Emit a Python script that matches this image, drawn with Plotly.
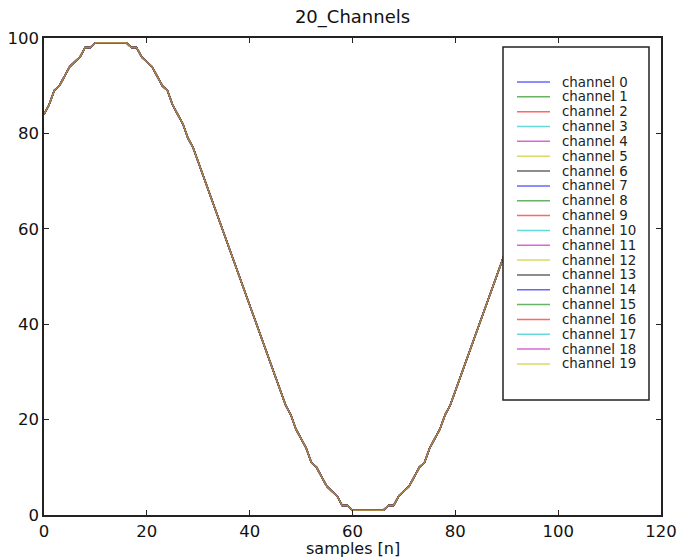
import plotly.graph_objects as go

# sample index and the (identical) value recorded on every channel
samples = list(range(100))
values = [84, 86, 89, 90, 92, 94, 95, 96, 98, 98,
          99, 99, 99, 99, 99, 99, 99, 98, 98, 96,
          95, 94, 92, 90, 89, 86, 84, 82, 79, 77,
          74, 71, 68, 65, 62, 59, 56, 53, 50, 47,
          44, 41, 38, 35, 32, 29, 26, 23, 21, 18,
          16, 14, 11, 10, 8, 6, 5, 4, 2, 2,
          1, 1, 1, 1, 1, 1, 1, 2, 2, 4,
          5, 6, 8, 10, 11, 14, 16, 18, 21, 23,
          26, 29, 32, 35, 38, 41, 44, 47, 50, 53,
          56, 59, 62, 65, 68, 71, 74, 77, 79, 82]

channel_names = [f"channel {i}" for i in range(20)]
channel_data = [values for _ in channel_names]

# classic b, g, r, c, m, y, k colour cycle
cycle = [(0, 0, 255), (0, 128, 0), (255, 0, 0), (0, 191, 191),
         (191, 0, 191), (191, 191, 0), (0, 0, 0)]
ALPHA = 0.6


def rgba(i):
    r, g, b = cycle[i % len(cycle)]
    return f"rgba({r},{g},{b},{ALPHA})"


FONT = "DejaVu Sans"
W, H = 683, 558
L, R, T, B = 44, 22, 38, 43
PW, PH = W - L - R, H - T - B


def px_x(p):
    return (p - L) / PW


def px_y(p):
    return (H - B - p) / PH


fig = go.Figure()
for i, (name, ys) in enumerate(zip(channel_names, channel_data)):
    fig.add_trace(go.Scatter(x=samples, y=ys, mode="lines", name=name,
                             line=dict(color=rgba(i), width=1.4),
                             showlegend=False))

# legend box drawn on top of the curves
shapes = [dict(type="rect", xref="paper", yref="paper",
               x0=px_x(503), x1=px_x(649), y0=px_y(400), y1=px_y(47),
               fillcolor="white", line=dict(color="#222", width=1.5),
               layer="above")]
annotations = []
for i, name in enumerate(channel_names):
    yy = px_y(82 + 14.84 * i)
    shapes.append(dict(type="line", xref="paper", yref="paper",
                       x0=px_x(517), x1=px_x(550), y0=yy, y1=yy,
                       line=dict(color=rgba(i), width=1.5), layer="above"))
    annotations.append(dict(xref="paper", yref="paper", x=px_x(560), y=yy,
                            text=name, showarrow=False, xanchor="left",
                            yanchor="middle",
                            font=dict(family=FONT, size=13.4, color="#222")))

# axis title placed as free text under the tick labels
annotations.append(dict(xref="paper", yref="paper", x=0.5, y=px_y(548),
                        text="samples [n]", showarrow=False, xanchor="center",
                        yanchor="middle",
                        font=dict(family=FONT, size=16, color="#111")))

axis_common = dict(showline=True, mirror="ticks", ticks="inside", ticklen=5,
                   tickwidth=1, tickcolor="#222", linecolor="#222",
                   linewidth=1.5, showgrid=False, zeroline=False,
                   automargin=False,
                   tickfont=dict(family=FONT, size=16.5, color="#111"))

fig.update_layout(
    width=W, height=H,
    margin=dict(l=L, r=R, t=T, b=B),
    paper_bgcolor="white", plot_bgcolor="white",
    title=dict(text="20_Channels", x=0.5 * (L + W - R) / W, xanchor="center",
               y=1 - 17 / H, yanchor="middle", yref="container",
               font=dict(family=FONT, size=18, color="#111")),
    xaxis=dict(range=[0, 120], tickvals=[0, 20, 40, 60, 80, 100, 120],
               **axis_common),
    yaxis=dict(range=[0, 100], tickvals=[0, 20, 40, 60, 80, 100],
               **axis_common),
    shapes=shapes, annotations=annotations,
    showlegend=False,
)

fig.write_html("out.html")
